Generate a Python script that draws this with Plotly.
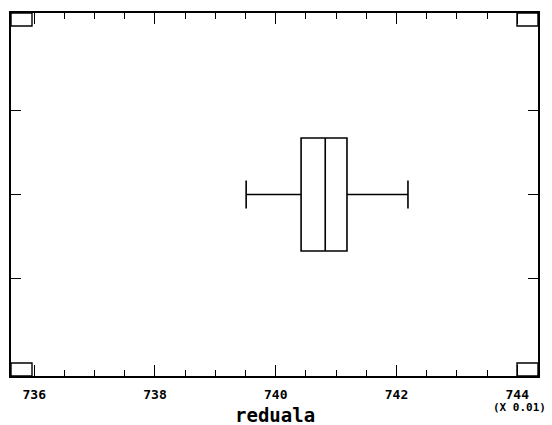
import plotly.graph_objects as go

# Box-and-whisker summary for "reduala" (real units; axis shown x 0.01)
lower_whisker = [7.3951]
q1_values = [7.4042]
median_values = [7.4082]
q3_values = [7.4118]
upper_whisker = [7.4219]
box_position = [0]

tick_values = [7.36, 7.38, 7.40, 7.42, 7.44]
tick_labels = ["736", "738", "740", "742", "744"]
axis_title = "reduala"
scale_note = "(X 0.01)"

W, H = 552, 425
ML, MR, MT, MB = 11, 14, 13, 49
PW, PH = W - ML - MR, H - MT - MB

fig = go.Figure()
fig.add_trace(go.Box(
    y=box_position,
    lowerfence=lower_whisker, q1=q1_values, median=median_values,
    q3=q3_values, upperfence=upper_whisker,
    orientation="h",
    width=0.672,
    whiskerwidth=0.25,
    fillcolor="rgba(0,0,0,0)",
    line=dict(color="black", width=1.6),
    boxpoints=False,
    showlegend=False,
    hoverinfo="skip",
))

mono = "DejaVu Sans Mono"

# corner squares (pixel size converted to domain fractions)
sw, sh = 21 / PW, 13 / PH
corners = [(0, 1 - sh), (1 - sw, 1 - sh), (0, 0), (1 - sw, 0)]
shapes = []
for cx, cy in corners:
    shapes.append(dict(type="rect", xref="x domain", yref="y domain",
                       x0=cx, x1=cx + sw, y0=cy, y1=cy + sh,
                       line=dict(color="black", width=1.4)))

fig.update_layout(
    width=W, height=H,
    margin=dict(l=ML, r=MR, t=MT, b=MB),
    paper_bgcolor="white", plot_bgcolor="white",
    shapes=shapes,
    xaxis=dict(
        range=[7.35615, 7.44344],
        tickmode="array", tickvals=tick_values, ticktext=tick_labels,
        ticks="inside", ticklen=11, tickwidth=1.3, tickcolor="black",
        minor=dict(dtick=0.005, tick0=7.36, ticks="inside", ticklen=6,
                   tickwidth=1.2, tickcolor="black"),
        showline=True, linecolor="black", linewidth=1.6, mirror="ticks",
        showgrid=False, zeroline=False,
        tickfont=dict(family=mono, size=13, color="black", weight="bold"),
        ticklabelstandoff=6,
    ),
    yaxis=dict(
        range=[-1.08, 1.08],
        tickmode="array", tickvals=[-0.5, 0, 0.5], showticklabels=False,
        ticks="inside", ticklen=10, tickwidth=1.3, tickcolor="black",
        showline=True, linecolor="black", linewidth=1.6, mirror="ticks",
        showgrid=False, zeroline=False,
    ),
    annotations=[
        dict(text=axis_title, xref="paper", yref="paper", x=0.5, y=-(415 - 376) / PH,
             xanchor="center", yanchor="middle", showarrow=False,
             font=dict(family=mono, size=19, color="black", weight="bold")),
        dict(text=scale_note, xref="paper", yref="paper", x=(548 - ML) / PW,
             y=-(407 - 376) / PH, xanchor="right", yanchor="middle", showarrow=False,
             font=dict(family=mono, size=11, color="black", weight="bold")),
    ],
)

fig.write_html("out.html", config={"displayModeBar": False},
               post_script="document.body.style.margin='0';document.body.style.overflow='hidden';")
